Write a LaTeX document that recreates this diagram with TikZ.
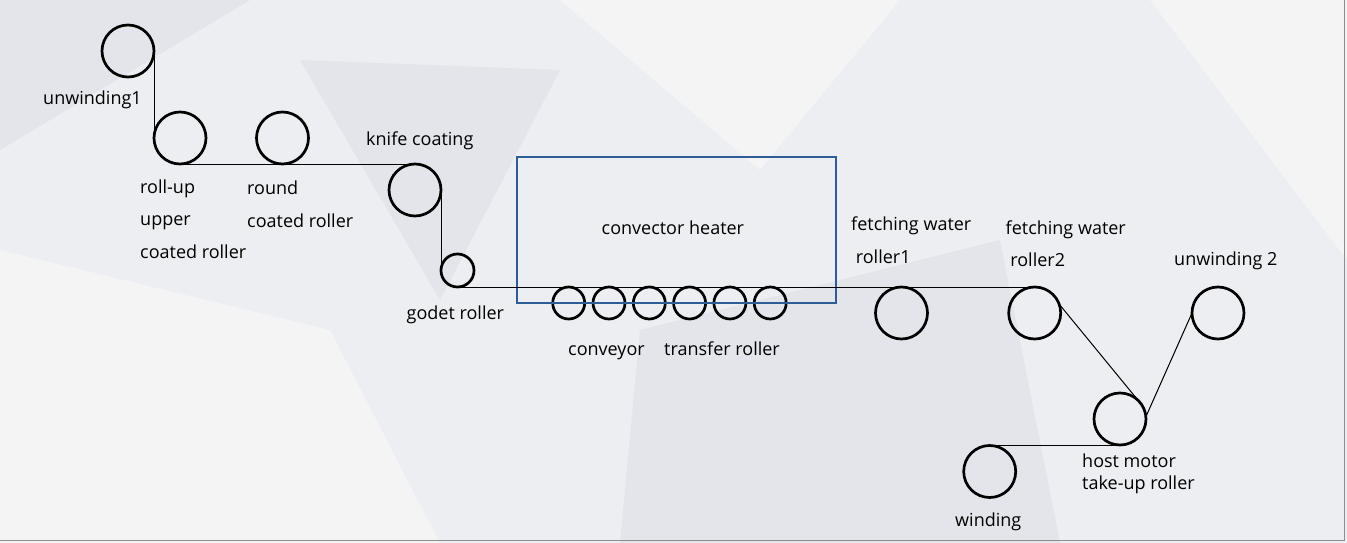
\documentclass[tikz,border=0pt]{standalone}
\usepackage{fontspec}
\setmainfont{Open Sans}
\usepackage{tikz}
\usetikzlibrary{positioning,calc}
\definecolor{paper}{HTML}{EDEEF1}
\definecolor{bgshade}{HTML}{E3E5EB}
\definecolor{bgpale}{HTML}{F4F4F5}
\definecolor{heaterblue}{HTML}{2E5C96}
\definecolor{framegray}{HTML}{8E8E8E}
\tikzset{
  roller/.style={circle, draw=black, line width=2.7pt, minimum size=52pt,
    inner sep=0pt, outer sep=0pt},
  godetroll/.style={roller, minimum size=33pt},
  convroll/.style={roller, minimum size=32pt},
  heaterbox/.style={draw=heaterblue, line width=2.2pt, minimum width=319pt,
    minimum height=146pt, inner sep=0pt, outer sep=0pt},
  belt/.style={draw=black, line width=1pt},
  tag/.style={anchor=base west, inner sep=0pt, align=left, text=black,
    font=\fontsize{18}{32.5}\selectfont}
}

\begin{document}
\begin{tikzpicture}[x=1pt,y=-1pt]
  % ---- Canvas ----
  \useasboundingbox (0,0) rectangle (1347,543);
  \fill[paper] (0,0) rectangle (1347,543);
  \fill[bgshade] (0,0) -- (250,0) -- (0,150) -- cycle;
  \fill[bgshade] (300,60) -- (560,70) -- (440,300) -- cycle;
  \fill[bgpale] (0,250) -- (330,330) -- (440,543) -- (0,543) -- cycle;
  \fill[bgpale] (560,0) -- (900,0) -- (760,170) -- cycle;
  \fill[bgshade] (640,330) -- (1000,240) -- (1060,543) -- (620,543) -- cycle;
  \fill[bgpale] (1150,0) -- (1347,0) -- (1347,260) -- cycle;
  \draw[framegray, line width=1pt] (0,540.5) -- (1344.5,540.5) -- (1344.5,0);

  % ---- Rollers ----
  \node[roller] (unwa)   at (128,51) {};
  \node[roller] (rollup) at (180,138) {};
  \node[roller] (round)  at (282.5,138) {};
  \node[roller] (knife)  at (415,190) {};
  \node[godetroll] (godet) at (457.5,270.5) {};
  \foreach \i in {0,...,5}
    \node[convroll] (conv\i) at (568.7+40.3*\i,303) {};
  \node[roller] (fwa)  at (901.5,313) {};
  \node[roller] (fwb)  at (1034.7,313) {};
  \node[roller] (host) at (1120,419) {};
  \node[roller] (unwb) at (1218,313) {};
  \node[roller] (wind) at (989.7,471.5) {};

  % ---- Heater ----
  \node[heaterbox] (heater) at (676.4,230.3) {};

  % ---- Belt ----
  \draw[belt] (unwa.east) -- (unwa.east |- rollup.west);
  \draw[belt] (rollup.south) -- (rollup.south -| knife.north);
  \draw[belt] (knife.east) -- (knife.east |- godet.west);
  \draw[belt] (godet.south) -- (godet.south -| fwb.north);
  \draw[belt] (fwb.20) -- (host.46);
  \draw[belt] (host.5) -- (unwb.west);
  \draw[belt] (host.south) -- (host.south -| wind.north);

  % ---- Labels (base = last line) ----
  \node[tag] (lunwa)   at (43,104)   {unwinding1};
  \node[tag] (lrollup) at (140,258)  {roll-up\\upper\\coated roller};
  \node[tag] (lround)  at (247,227)  {round\\coated roller};
  \node[tag] (lknife)  at (366,145)  {knife coating};
  \node[tag] (lgodet)  at (406.5,319) {godet roller};
  \node[tag] (lheater) at (601.5,234) {convector heater};
  \node[tag] (lconv)   at (568,355)  {conveyor};
  \node[tag] (ltrans)  at (664,355)  {transfer roller};
  \node[tag] (lfwa)    at (851,263.3)  {fetching water\\\ roller1};
  \node[tag] (lfwb)    at (1005.5,266.7) {fetching water\\\ roller2};
  \node[tag] (lunwb)   at (1174,265) {unwinding 2};
  \node[tag, font=\fontsize{18}{21.6}\selectfont] (lhost) at (1082,489.3)
    {host motor\\take-up roller};
  \node[tag] (lwind)   at (955,526)  {winding};
\end{tikzpicture}
\end{document}
